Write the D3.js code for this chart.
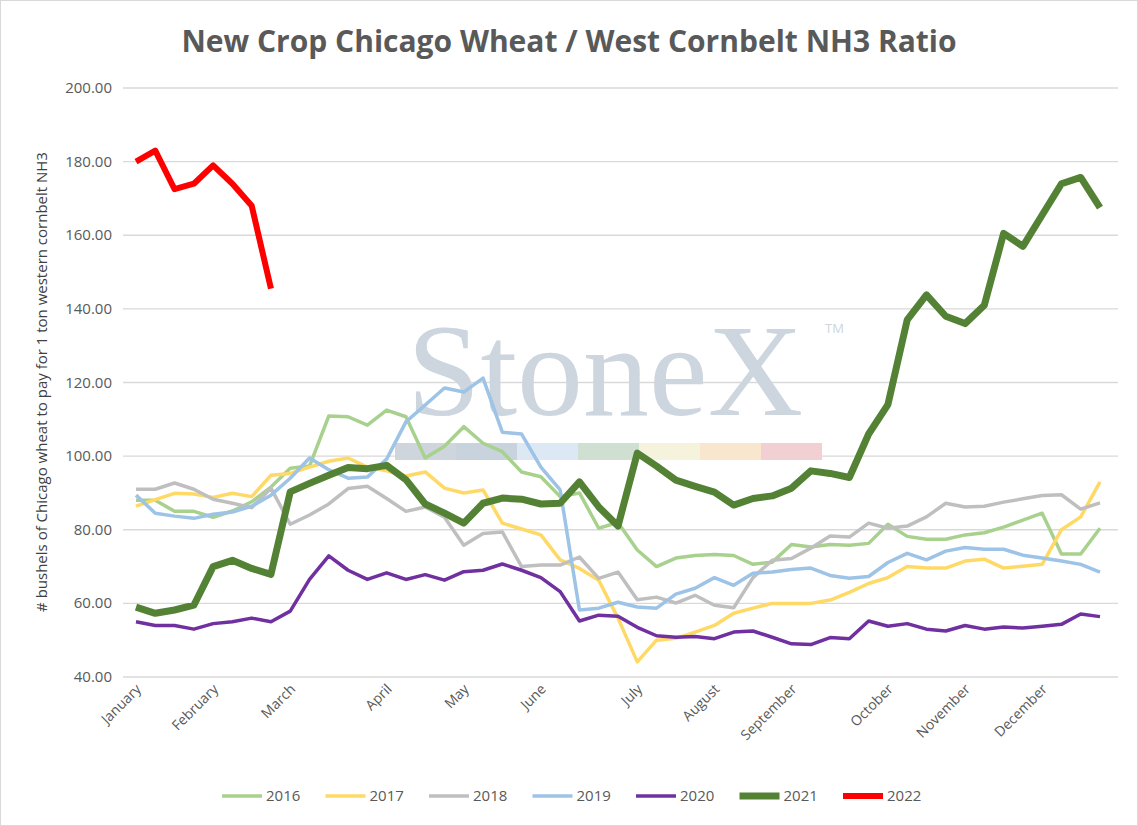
<!DOCTYPE html>
<meta charset="utf-8">
<script src="https://d3js.org/d3.v7.min.js"></script>
<style>
  body { margin: 0; background: #fff; }
  text { font-family: "Open Sans", "Liberation Sans", sans-serif; }
</style>
<body>
<div id="my_dataviz"></div>
<script>

// weekly points, month label sits on the first week of each month
var months = ["January","February","March","April","May","June","July","August","September","October","November","December"];
var monthWeek = [0, 4, 8, 13, 17, 21, 26, 30, 34, 39, 43, 47];
var yTicks = [40, 60, 80, 100, 120, 140, 160, 180, 200];

var y2016 = [88,88,85,85,83.4,85.1,87.6,91.6,96.7,97.3,110.9,110.7,108.4,112.5,110.7,99.5,102.7,108,103.5,101.2,95.7,94.4,89,90,80.4,82,74.5,70,72.3,73,73.3,73,70.6,71.2,76,75.3,76,75.8,76.3,81.5,78.2,77.4,77.4,78.6,79.2,80.7,82.6,84.5,73.4,73.4,80.4];
var y2017 = [86.4,88.2,89.9,89.7,88.8,89.9,89,94.8,95.3,97,98.6,99.5,97,96,94.6,95.7,91.3,90,90.8,81.8,80.2,78.6,71.8,69.5,66.3,56,44.1,50,50.5,52.2,54,57.3,58.7,60,60,60,60.9,63,65.4,67,70,69.6,69.6,71.5,72,69.6,70.1,70.6,80,83.5,93];
var y2018 = [91,91,92.7,91,88.3,87.2,86,91.3,81.5,84,87,91.2,91.8,88.5,85,86.2,83.4,75.8,79,79.4,70,70.4,70.4,72.6,66.8,68.5,61,61.7,60.1,62.2,59.5,58.8,67,71.7,72.2,75,78.3,78,81.8,80.4,81,83.5,87.2,86.2,86.4,87.5,88.4,89.3,89.5,85.6,87.3];
var y2019 = [89.4,84.5,83.7,83.1,84.2,84.8,86.4,89.4,94,99.5,96.3,94,94.3,99.2,109.3,113.9,118.5,117.4,121.2,106.5,106,97,90.8,58.2,58.7,60.3,59,58.7,62.5,64.1,67,64.9,68.2,68.5,69.2,69.6,67.6,66.8,67.3,71.1,73.6,71.8,74.2,75.2,74.7,74.7,73.1,72.3,71.5,70.6,68.5];
var y2020 = [55,54,54,53,54.5,55,56,55,57.9,66.5,72.9,69,66.5,68.3,66.5,67.8,66.3,68.6,69,70.7,69,67,63.2,55.2,56.8,56.5,53.5,51.2,50.8,51,50.4,52.2,52.5,50.8,49,48.8,50.7,50.4,55.2,53.8,54.5,53,52.5,54,53,53.6,53.3,53.8,54.3,57.1,56.4];
var y2021 = [59,57.3,58.2,59.5,70,71.7,69.5,67.9,90.3,92.6,94.8,96.9,96.6,97.5,93.6,87,84.5,81.8,87.2,88.6,88.3,87,87.2,93,86.2,81,100.8,97.3,93.5,91.8,90.2,86.7,88.5,89.2,91.3,96,95.3,94.2,106,114,137,143.8,138,136,141,160.5,157,165.5,174,175.7,167.5];
var y2022 = [180,183,172.5,174,179,174,168,145.5];

var years = ["2016","2017","2018","2019","2020","2021","2022"];
var values = [y2016, y2017, y2018, y2019, y2020, y2021, y2022];
var colors = ["#A9D18E","#FFD966","#BFBFBF","#9DC3E6","#7030A0","#548235","#FF0000"];
var widths = [3.5, 3.5, 3.5, 3.5, 3.5, 7, 6];

var W = 1138, H = 826;
var svg = d3.select("#my_dataviz").append("svg")
  .attr("width", W).attr("height", H);

svg.append("rect").attr("x", 0.5).attr("y", 0.5).attr("width", W - 1).attr("height", H - 1)
  .attr("fill", "#fff").attr("stroke", "#d9d9d9");

var x = d3.scaleLinear().domain([0, 50]).range([136, 1100]);
var y = d3.scaleLinear().domain([40, 200]).range([677, 88]);

// gridlines + y labels
svg.append("g").selectAll("line").data(yTicks).enter().append("line")
  .attr("x1", 123).attr("x2", 1118)
  .attr("y1", function(d){ return y(d); }).attr("y2", function(d){ return y(d); })
  .attr("stroke", "#d9d9d9").attr("stroke-width", 1.3);
svg.append("g").selectAll("text").data(yTicks).enter().append("text")
  .attr("x", 112).attr("y", function(d){ return y(d) + 5; })
  .attr("text-anchor", "end").attr("font-size", 15).attr("fill", "#595959")
  .text(function(d){ return d.toFixed(2); });

// watermark
svg.append("text").attr("x", 605).attr("y", 415).attr("text-anchor", "middle")
  .style("font-family", "'Liberation Serif', 'DejaVu Serif', serif").attr("font-size", 132)
  .attr("fill", "#cdd5de").text("StoneX");
svg.append("text").attr("x", 825).attr("y", 333).attr("font-size", 13)
  .attr("fill", "#cdd5de").text("TM");
var strip = ["#cfd5dc","#c9d3de","#dce8f3","#cfe0d3","#f6f3dc","#f8e6cf","#f1cfd3"];
svg.append("g").selectAll("rect").data(strip).enter().append("rect")
  .attr("x", function(d, i){ return 395 + i * 61; }).attr("y", 443)
  .attr("width", 61).attr("height", 17).attr("fill", function(d){ return d; });

// series
var line = d3.line().x(function(d, i){ return x(i); }).y(function(d){ return y(d); });
svg.append("g").selectAll("path").data(values).enter().append("path")
  .attr("d", line).attr("fill", "none")
  .attr("stroke", function(d, i){ return colors[i]; })
  .attr("stroke-width", function(d, i){ return widths[i]; })
  .attr("stroke-linejoin", "round");

// month labels
svg.append("g").selectAll("text").data(months).enter().append("text")
  .attr("transform", function(d, i){ return "translate(" + (x(monthWeek[i]) + 6) + ",690) rotate(-45)"; })
  .attr("text-anchor", "end").attr("font-size", 14).attr("fill", "#595959")
  .text(function(d){ return d; });

// title + axis title
svg.append("text").attr("x", 569).attr("y", 52).attr("text-anchor", "middle")
  .attr("font-size", 30).attr("font-weight", "bold").attr("fill", "#595959")
  .text("New Crop Chicago Wheat / West Cornbelt NH3 Ratio");
svg.append("text").attr("transform", "translate(47,382) rotate(-90)")
  .attr("text-anchor", "middle").attr("font-size", 15).attr("fill", "#404040")
  .text("# bushels of Chicago wheat to pay for 1 ton western cornbelt NH3");

// legend
var leg = svg.append("g").selectAll("g").data(years).enter().append("g")
  .attr("transform", function(d, i){ return "translate(" + (222 + i * 103.5) + ",796)"; });
leg.append("line").attr("x1", 0).attr("x2", 40)
  .attr("stroke", function(d, i){ return colors[i]; })
  .attr("stroke-width", function(d, i){ return widths[i]; });
leg.append("text").attr("x", 44).attr("y", 5).attr("font-size", 15).attr("fill", "#595959")
  .text(function(d){ return d; });
</script>
</body>
